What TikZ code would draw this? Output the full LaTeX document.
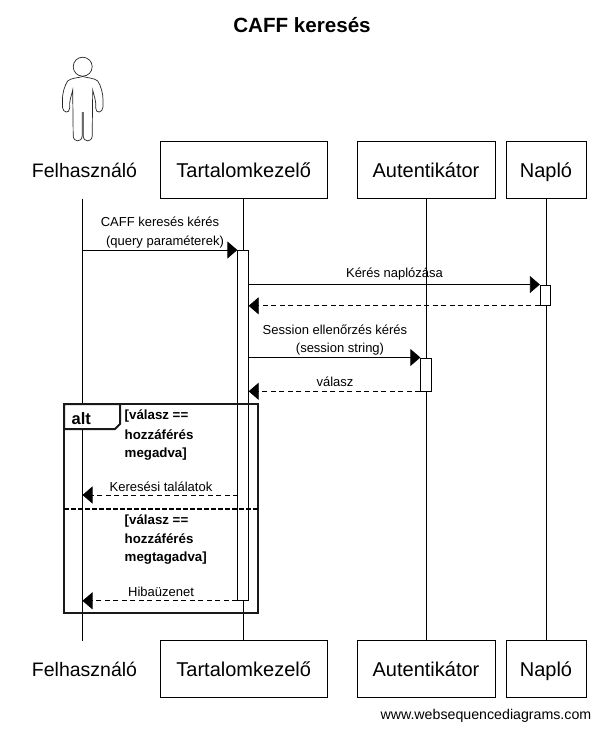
\documentclass[tikz,border=0pt]{standalone}
\usepackage{fontspec}
\setmainfont{Liberation Sans}
\usetikzlibrary{arrows.meta}
\tikzset{
 party/.style={draw, fill=white, line width=.8pt, minimum height=57, inner sep=0, text height=15, text depth=0, font=\fontsize{20}{22}\selectfont},
 plain/.style={inner sep=0, text height=15, text depth=0, font=\fontsize{19.5}{22}\selectfont},
 active/.style={draw, fill=white, line width=.8pt, minimum width=10.5, inner sep=0, anchor=north},
 msg/.style={inner sep=0, font=\fontsize{13}{15}\selectfont},
 guard/.style={inner sep=0, anchor=west, font=\fontsize{13.3}{15}\selectfont\bfseries},
 call/.style={line width=.8pt, -{Triangle[length=10, width=17]}},
 reply/.style={line width=.8pt, dash pattern=on 5pt off 3.5pt, -{Triangle[length=10, width=17]}},
 frameline/.style={line width=2pt, black!90},
}
\begin{document}
\begin{tikzpicture}[x=1pt, y=-1pt]
\useasboundingbox[fill=white] (0,0) rectangle (600,732);
\node[inner sep=0, font=\fontsize{20.6}{24}\selectfont\bfseries] (title) at (302,25) {CAFF keresés};
% szereplok
\node[plain] (felh) at (84.5,170) {Felhasználó};
\node[party, minimum width=166.5] (tart) at (243.7,169.7) {Tartalomkezelő};
\node[party, minimum width=138] (aut) at (426,169.7) {Autentikátor};
\node[party, minimum width=80] (nap) at (546,169.7) {Napló};
\node[plain] (felhb) at (84.5,669) {Felhasználó};
\node[party, minimum width=166.5] (tartb) at (243.7,669) {Tartalomkezelő};
\node[party, minimum width=138] (autb) at (426,669) {Autentikátor};
\node[party, minimum width=80] (napb) at (546,669) {Napló};
% eletvonalak
\coordinate (felhf) at (82.5,198.5);
\coordinate (felhl) at (82.5,640.5);
\draw[line width=.8pt] (felhf) -- (felhl);
\draw[line width=.8pt] (tart.south) -- (tartb.north);
\draw[line width=.8pt] (aut.south) -- (autb.north);
\draw[line width=.8pt] (nap.south) -- (napb.north);
% alak
\draw[line width=.7pt, black!85] (82.7,66.7) circle (9.5);
\foreach \s in {1,-1} {
 \draw[line width=.7pt, black!85] (82.7,76.5) .. controls ({82.7+\s*5},78) and ({82.7+\s*12},78) .. ({82.7+\s*15},81)
  .. controls ({82.7+\s*18},85) and ({82.7+\s*20.5},94) .. ({82.7+\s*20.3},100)
  -- ({82.7+\s*20.3},107) .. controls ({82.7+\s*20},113) and ({82.7+\s*13},114) .. ({82.7+\s*13},108)
  .. controls ({82.7+\s*14},102) and ({82.7+\s*11},95) .. ({82.7+\s*10},90)
  -- ({82.7+\s*9.5},136) .. controls ({82.7+\s*9},142.5) and ({82.7+\s*1},142.5) .. ({82.7+\s*.5},136)
  -- ({82.7+\s*.5},112);
}
% aktivacio
\node[active, minimum height=350] (akt) at (243,250) {};
\node[active, minimum height=20.5] (aktn) at (545.5,284.5) {};
\node[active, minimum height=33] (akta) at (426,357.5) {};
% uzenetek
\node[msg] (m1) at (160,222) {CAFF keresés kérés};
\node[msg] (m2) at (165,242) {(query paraméterek)};
\draw[call] (felhf |- akt.north) -- (akt.north west);
\node[msg] (m3) at (394.5,274.5) {Kérés naplózása};
\draw[call] (akt.east |- aktn.north) -- (aktn.north west);
\draw[reply] (aktn.south west) -- (akt.east |- aktn.south);
\node[msg] (m4) at (335,329.5) {Session ellenőrzés kérés};
\node[msg] (m5) at (340,349) {(session string)};
\draw[call] (akt.east |- akta.north) -- (akta.north west);
\node[msg] (m6) at (335,381.5) {válasz};
\draw[reply] (akta.south west) -- (akt.east |- akta.south);
% alt keret
\coordinate (altnw) at (64,404);
\coordinate (altse) at (258,613);
\draw[frameline] (altnw) rectangle (altse);
\draw[frameline, fill=white] (64,404) -- (120,404) -- (120,424) -- (115,429) -- (64,429) -- cycle;
\node[inner sep=0, font=\fontsize{16.5}{18}\selectfont\bfseries] (alt) at (81.3,418.5) {alt};
\draw[line width=2pt, dash pattern=on 4.5pt off 2.5pt] (altnw |- 0,509) -- (altse |- 0,509);
\node[guard] (g1) at (124.5,415.5) {[válasz ==};
\node[guard] (g2) at (124.5,435) {hozzáférés};
\node[guard] (g3) at (124.5,454.5) {megadva]};
\node[guard] (g4) at (124.5,520.5) {[válasz ==};
\node[guard] (g5) at (124.5,539) {hozzáférés};
\node[guard] (g6) at (124.5,558) {megtagadva]};
\node[msg] (m7) at (161,486.5) {Keresési találatok};
\coordinate (k1) at (238,495);
\draw[reply] (k1) -- (felhf |- k1);
\node[msg] (m8) at (161,591.5) {Hibaüzenet};
\draw[reply] (akt.south west) -- (felhf |- akt.south);
\node[inner sep=0, anchor=east, font=\fontsize{14.2}{16}\selectfont] (wsd) at (591.5,716) {www.websequencediagrams.com};
\end{tikzpicture}
\end{document}
